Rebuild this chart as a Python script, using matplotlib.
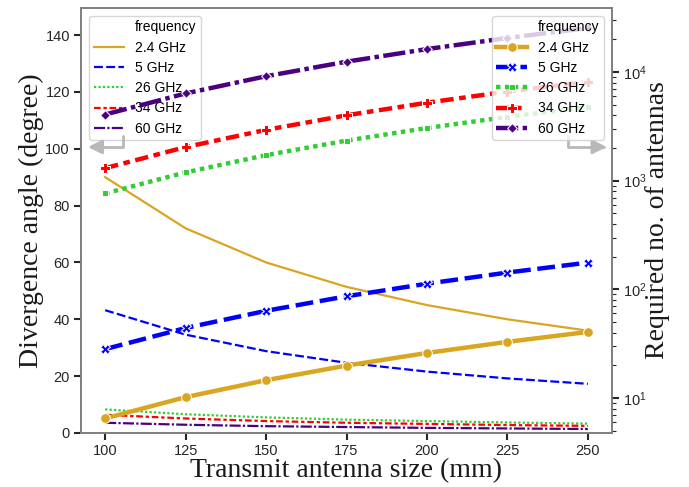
import numpy as np
import matplotlib
matplotlib.use('Agg')
import matplotlib.pyplot as plt
from matplotlib.lines import Line2D

plt.rcParams['font.family'] = ['Liberation Sans', 'DejaVu Sans']
plt.rcParams['mathtext.default'] = 'regular'

# transmit antenna size (mm)
sizes = [100, 125, 150, 175, 200, 225, 250]
freq_labels = ['2.4 GHz', '5 GHz', '26 GHz', '34 GHz', '60 GHz']

# divergence angle (degree)
div_24 = [90.0, 72.0, 60.0, 51.4, 45.0, 40.0, 36.0]
div_5 = [43.2, 34.6, 28.8, 24.7, 21.6, 19.2, 17.3]
div_26 = [8.3, 6.6, 5.5, 4.7, 4.2, 3.7, 3.3]
div_34 = [6.4, 5.1, 4.2, 3.6, 3.2, 2.8, 2.5]
div_60 = [3.6, 2.9, 2.4, 2.1, 1.8, 1.6, 1.4]

# required number of antennas
ant_24 = [6.5, 10.2, 14.6, 19.9, 26, 32.9, 40.6]
ant_5 = [28.2, 44.1, 63.5, 86.4, 112.8, 142.8, 176.3]
ant_26 = [763, 1192, 1717, 2337, 3052, 3863, 4769]
ant_34 = [1304, 2038, 2935, 3995, 5218, 6604, 8153]
ant_60 = [4063, 6348, 9141, 12442, 16250, 20566, 25391]

divergence = [div_24, div_5, div_26, div_34, div_60]
antennas = [ant_24, ant_5, ant_26, ant_34, ant_60]

colors = ['#DAA520', '#0000FF', '#32CD32', '#FF0000', '#4B0082']
dashes = [(), (4, 1.5), (1, 1), (3, 1.25, 1.5, 1.25), (5, 1, 1, 1)]
markers = ['o', 'X', (4, 0, 45), 'P', (4, 0, 0)]

spine_col = '#808080'
tick_col = '#262626'
serif = dict(family='Liberation Serif', fontsize=20, color='#1a1a1a')

fig = plt.figure(figsize=(6.89, 4.87), dpi=100)
ax1 = fig.add_axes([81 / 689, 54 / 487, 531 / 689, 425 / 487])
ax2 = ax1.twinx()

for vals, c, d, lab in zip(divergence, colors, dashes, freq_labels):
    ax1.plot(sizes, vals, color=c, lw=1.6, dashes=d, label=lab)

for vals, c, d, m, lab in zip(antennas, colors, dashes, markers, freq_labels):
    ax2.plot(sizes, vals, color=c, lw=3.2, dashes=d, marker=m, ms=7,
             mec='w', mew=0.75, label=lab)

ax1.set_xlim(92.5, 257.5)
ax1.set_ylim(0, 149.5)
ax1.set_xticks(sizes)
ax1.set_yticks(np.arange(0, 141, 20))
ax2.set_yscale('log')
ax2.set_ylim(4.77, 38800)

for ax in (ax1, ax2):
    for s in ax.spines.values():
        s.set_color(spine_col)
        s.set_linewidth(1.25)
    ax.tick_params(which='major', length=5, width=1.5, color=tick_col,
                   labelsize=10.5, labelcolor=tick_col, pad=3)
    ax.tick_params(which='minor', length=3, width=0.8, color=tick_col)

ax1.set_xlabel('Transmit antenna size (mm)', labelpad=0, **serif)
ax1.set_ylabel('Divergence angle (degree)', labelpad=1, **serif)
ax2.set_ylabel('Required no. of antennas', labelpad=-1, **serif)

# legends with a "frequency" heading row
blank = Line2D([], [], linestyle='none')
h1, l1 = ax1.get_legend_handles_labels()
h2, l2 = ax2.get_legend_handles_labels()
leg_kw = dict(fontsize=10, labelspacing=0.45, handlelength=2.2,
              borderaxespad=0.6, borderpad=0.3)
ax1.legend([blank] + h1, ['frequency'] + l1, loc='upper left', **leg_kw)
ax2.legend([blank] + h2, ['frequency'] + l2, loc='upper right', **leg_kw)

# arrows pointing each legend to its axis
arrow_kw = dict(arrowstyle='-|>,head_length=0.6,head_width=0.3', color='#b8b8b8',
                lw=2, shrinkA=0, shrinkB=0, mutation_scale=14,
                connectionstyle='angle,angleA=-90,angleB=0,rad=0')
ax2.annotate('', xy=(0.013, 0.673), xytext=(0.079, 0.698),
             xycoords='axes fraction', textcoords='axes fraction',
             arrowprops=arrow_kw)
ax2.annotate('', xy=(0.99, 0.673), xytext=(0.917, 0.698),
             xycoords='axes fraction', textcoords='axes fraction',
             arrowprops=arrow_kw)

fig.savefig('out.png', dpi=100)
